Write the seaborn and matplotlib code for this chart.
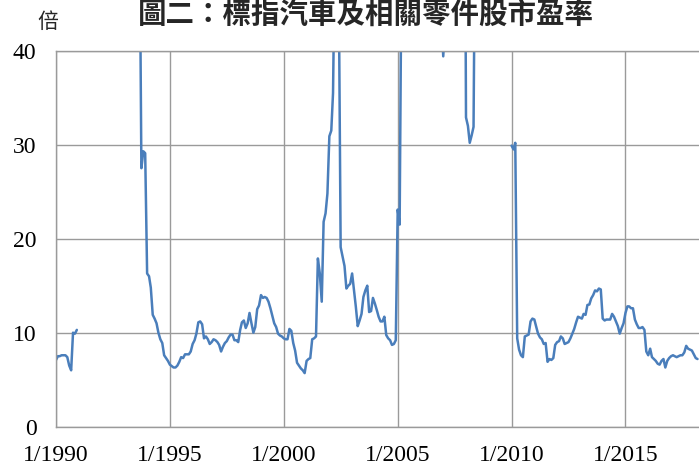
import matplotlib
matplotlib.use("Agg")
import matplotlib.pyplot as plt
import pandas as pd
import seaborn as sns

# Monthly P/E ratio of the auto & parts index, in three unbroken runs
start_1990 = "1990-01"
pe_1990 = [7.1, 7.5, 7.5, 7.6, 7.6, 7.6, 7.4, 6.5, 6.0, 10.0, 9.9, 10.3]

start_1993 = "1993-09"
pe_1993 = [
    55.0, 27.5, 29.3, 29.1,                                               # 1993
    16.3, 16.0, 14.8, 11.9, 11.5, 11.0, 10.0, 9.3, 8.9, 7.6, 7.3, 7.0,    # 1994
    6.6, 6.45, 6.3, 6.3, 6.5, 6.9, 7.4, 7.3, 7.7, 7.7, 7.7, 8.0,          # 1995
    8.8, 9.2, 9.9, 11.1, 11.2, 10.9, 9.4, 9.6, 9.3, 8.8, 9.0, 9.3,        # 1996
    9.2, 9.0, 8.7, 8.0, 8.5, 8.9, 9.1, 9.5, 9.8, 9.8, 9.2, 9.2,           # 1997
    9.0, 10.3, 11.1, 11.3, 10.5, 11.0, 12.1, 11.0, 10.0, 10.6, 12.5, 12.9,  # 1998
    14.0, 13.7, 13.8, 13.7, 13.3, 12.6, 11.8, 11.0, 10.6, 9.9, 9.7, 9.6,  # 1999
    9.4, 9.3, 9.3, 10.4, 10.2, 8.9, 8.1, 6.8, 6.5, 6.2, 6.0, 5.7,         # 2000
    7.0, 7.2, 7.3, 9.3, 9.4, 9.6, 17.9, 16.3, 13.3, 21.8, 22.7, 24.8,     # 2001
    30.9, 31.5, 35.5, 52.0, 58.0, 47.0, 19.1, 18.1, 17.1, 14.7, 15.0, 15.2,  # 2002
    16.3, 14.5, 12.8, 10.7, 11.3, 12.0, 13.8, 14.5, 15.0, 12.2, 12.3, 13.7,  # 2003
    13.1, 12.4, 11.7, 11.2, 11.2, 11.7, 9.75, 9.4, 9.2, 8.7, 8.8, 9.2,    # 2004
    23.1, 21.5, 48.0, 62.0, 70.0, 78.0, 85.0, 80.0, 72.0, 66.0, 60.0, 55.0,  # 2005
    58.0, 63.0, 70.0, 74.0, 68.0, 61.0, 56.0, 52.0, 49.0, 47.0, 45.0, 44.0,  # 2006
    39.4, 43.0, 48.0, 53.0, 57.0, 60.0, 62.0, 64.0, 66.0, 70.0, 75.0, 80.0,  # 2007
    32.9, 32.0, 30.2, 31.0, 31.9, 60.0,                                   # 2008
]

start_2010 = "2010-01"
pe_2010 = [
    29.9, 29.5, 30.2, 9.4, 8.2, 7.6, 7.4, 9.6, 9.7, 9.8, 11.2, 11.5,      # 2010
    11.4, 10.6, 9.9, 9.5, 9.3, 8.8, 8.9, 6.9, 7.2, 7.1, 7.3, 8.7,         # 2011
    9.0, 9.1, 9.6, 9.4, 8.8, 8.9, 9.0, 9.4, 9.9, 10.4, 11.1, 11.7,        # 2012
    11.6, 11.5, 12.0, 11.9, 12.95, 13.0, 13.65, 14.0, 14.5, 14.4, 14.7, 14.6,  # 2013
    11.5, 11.3, 11.4, 11.4, 11.4, 12.0, 11.7, 11.2, 10.7, 9.9, 10.5, 11.0,  # 2014
    12.1, 12.8, 12.8, 12.6, 12.6, 11.4, 10.9, 10.5, 10.5, 10.6, 10.3, 8.0,  # 2015
    7.6, 8.3, 7.4, 7.2, 7.0, 6.7, 6.6, 7.0, 7.2, 6.3, 7.0, 7.3,           # 2016
    7.5, 7.6, 7.5, 7.4, 7.5, 7.6, 7.6, 7.9, 8.6, 8.3, 8.2, 8.1,           # 2017
    7.7, 7.3, 7.2,                                                        # 2018
]

tick_years = [1990, 1995, 2000, 2005, 2010, 2015]
tick_labels = [f"1/{y}" for y in tick_years]
y_ticks = [0, 10, 20, 30, 40]

title = "圖二：標指汽車及相關零件股市盈率"
unit_label = "倍"

runs = []
for run_id, (start, values) in enumerate(
    [(start_1990, pe_1990), (start_1993, pe_1993), (start_2010, pe_2010)]
):
    dates = pd.date_range(start, periods=len(values), freq="MS")
    runs.append(pd.DataFrame({"date": dates, "pe": values, "run": run_id}))
df = pd.concat(runs, ignore_index=True)

sns.set_theme(style="white")
plt.rcParams["font.family"] = ["Liberation Serif", "Noto Sans CJK TC"]

W, H = 699, 466
fig = plt.figure(figsize=(W / 100, H / 100), dpi=100)
left, right, top, bottom = 56, 699, 50.7, 426.7
ax = fig.add_axes([left / W, 1 - bottom / H, (right - left) / W, (bottom - top) / H])

sns.lineplot(
    data=df, x="date", y="pe", units="run", estimator=None,
    color="#4a7ebb", linewidth=1.8, ax=ax,
)

ax.set_xlim(pd.Timestamp("1990-01-01"), pd.Timestamp("2018-03-25"))
ax.set_ylim(0, 40)
ax.set_xticks([pd.Timestamp(f"{y}-01-01") for y in tick_years])
ax.set_xticklabels(tick_labels)
ax.set_yticks(y_ticks)
ax.set_yticklabels([str(v) for v in y_ticks])
ax.set_xlabel("")
ax.set_ylabel("")

grid_color = "#9a9a9a"
ax.grid(True, color=grid_color, linewidth=1.0)
ax.set_axisbelow(True)
for side in ("left", "bottom", "top"):
    ax.spines[side].set_visible(True)
    ax.spines[side].set_color(grid_color)
    ax.spines[side].set_linewidth(1.0)
ax.spines["right"].set_visible(False)

ax.tick_params(axis="both", length=0, labelsize=17, colors="black")
ax.tick_params(axis="y", pad=14)
ax.tick_params(axis="x", pad=13)

fig.text(366 / W, 1 - 15 / H, title, ha="center", va="center",
         family=["Noto Sans CJK TC"], fontweight="bold", fontsize=20.5)
fig.text(48 / W, 1 - 22 / H, unit_label, ha="center", va="center",
         family=["Noto Sans CJK TC"], fontsize=15)

fig.savefig("out.png", dpi=100)
